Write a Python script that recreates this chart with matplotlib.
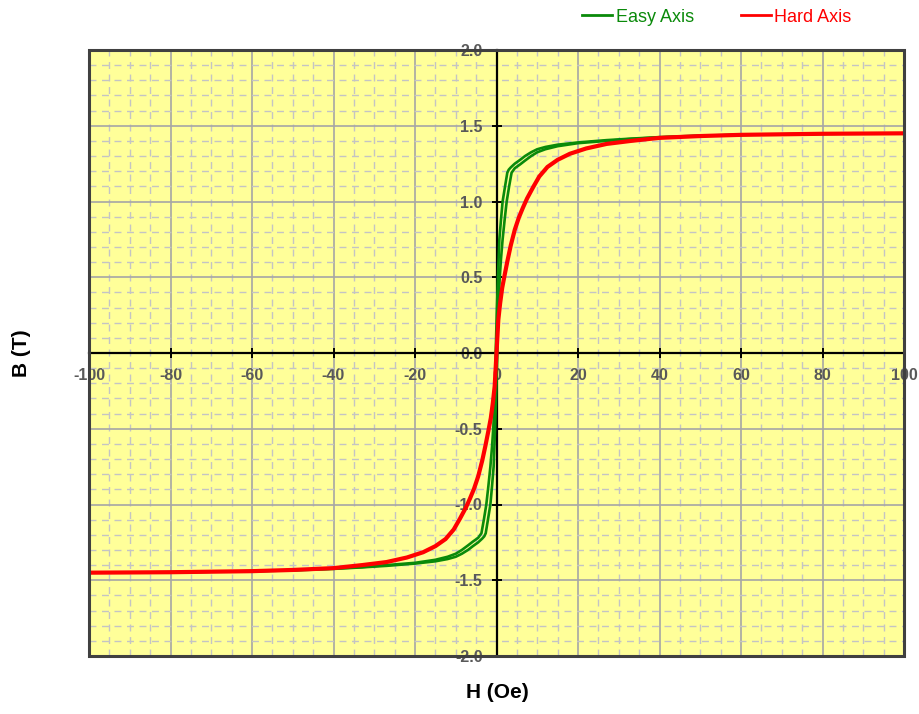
import matplotlib.pyplot as plt
from matplotlib.patches import Rectangle
from matplotlib.lines import Line2D
from matplotlib.ticker import MultipleLocator, FormatStrFormatter

plt.rcParams['axes.unicode_minus'] = False

# Easy axis loop: descending branch (from +H to -H)
easy_down_h = [100, 80, 60, 50, 40, 33, 27, 20, 15, 12, 10, 8.5, 7, 5.8, 4.5, 3.5, 3.0, 2.65, 2.1, 1.5, 1.1, 0.7, 0.35, 0.05, -0.2,
               -0.35, -0.8, -1.1, -1.5, -2.0, -2.5, -3.1, -3.7, -4.5, -5.8, -7, -8.5, -10, -12, -15, -20, -27, -33, -40, -50, -60, -80, -100]
easy_down_b = [1.45, 1.447, 1.44, 1.435, 1.425, 1.415, 1.405, 1.39, 1.375, 1.36, 1.345, 1.325, 1.30, 1.275, 1.25, 1.225, 1.21, 1.19, 1.1, 1.0, 0.88, 0.75, 0.5, 0.25, 0.0,
               -0.25, -0.5, -0.62, -0.75, -0.88, -1.0, -1.1, -1.19, -1.22, -1.245, -1.27, -1.30, -1.325, -1.345, -1.365, -1.385, -1.40, -1.413, -1.423, -1.433, -1.44, -1.447, -1.45]
# Easy axis loop: ascending branch (from -H to +H)
easy_up_h = [-100, -80, -60, -50, -40, -33, -27, -20, -15, -12, -10, -8.5, -7, -5.8, -4.5, -3.5, -3.0, -2.65, -2.1, -1.5, -1.1, -0.7, -0.35, -0.05, 0.2,
             0.35, 0.8, 1.1, 1.5, 2.0, 2.5, 3.1, 3.7, 4.5, 5.8, 7, 8.5, 10, 12, 15, 20, 27, 33, 40, 50, 60, 80, 100]
easy_up_b = [-1.45, -1.447, -1.44, -1.435, -1.425, -1.415, -1.405, -1.39, -1.375, -1.36, -1.345, -1.325, -1.30, -1.275, -1.25, -1.225, -1.21, -1.19, -1.1, -1.0, -0.88, -0.75, -0.5, -0.25, 0.0,
             0.25, 0.5, 0.62, 0.75, 0.88, 1.0, 1.1, 1.19, 1.22, 1.245, 1.27, 1.30, 1.325, 1.345, 1.365, 1.385, 1.40, 1.413, 1.423, 1.433, 1.44, 1.447, 1.45]

# Hard axis curve
hard_h = [-100, -80, -60, -50, -40, -33, -27, -22, -18, -15, -12.5, -10.5, -9, -7.5, -6.5, -5.5, -4.5, -3.5, -2.7, -2.0, -1.4, -0.9, -0.45,
          0,
          0.45, 0.9, 1.4, 2.0, 2.7, 3.5, 4.5, 5.5, 6.5, 7.5, 9, 10.5, 12.5, 15, 18, 22, 27, 33, 40, 50, 60, 80, 100]
hard_b = [-1.45, -1.447, -1.44, -1.432, -1.42, -1.40, -1.38, -1.35, -1.315, -1.275, -1.228, -1.165, -1.095, -1.02, -0.96, -0.895, -0.815, -0.71, -0.61, -0.515, -0.43, -0.33, -0.22,
          0.0,
          0.22, 0.33, 0.43, 0.515, 0.61, 0.71, 0.815, 0.895, 0.96, 1.02, 1.095, 1.165, 1.228, 1.275, 1.315, 1.35, 1.38, 1.40, 1.42, 1.432, 1.44, 1.447, 1.45]

green = '#0a8a0a'
red = '#ff0000'

fig = plt.figure(figsize=(9.2, 7.14), dpi=100)
ax = fig.add_axes([89 / 920, 1 - 656 / 714, 815 / 920, 606 / 714])
ax.set_facecolor('#ffff99')

ax.plot(easy_down_h, easy_down_b, color=green, lw=1.9, zorder=4, solid_joinstyle='round')
ax.plot(easy_up_h, easy_up_b, color=green, lw=1.9, zorder=4, solid_joinstyle='round')
ax.plot(hard_h, hard_b, color=red, lw=3.0, zorder=5, solid_joinstyle='round')

ax.set_xlim(-100, 100)
ax.set_ylim(-2, 2)
ax.xaxis.set_major_locator(MultipleLocator(20))
ax.xaxis.set_minor_locator(MultipleLocator(5))
ax.yaxis.set_major_locator(MultipleLocator(0.5))
ax.yaxis.set_minor_locator(MultipleLocator(0.1))
ax.yaxis.set_major_formatter(FormatStrFormatter('%.1f'))

ax.grid(which='major', color='#a6a6a6', lw=1.2, zorder=1)
ax.grid(which='minor', color='#c4c4c4', lw=1.0, linestyle=(0, (5, 4)), zorder=1)
ax.set_axisbelow(True)

# axes through the origin
ax.spines['left'].set_position('zero')
ax.spines['bottom'].set_position('zero')
ax.spines['top'].set_visible(False)
ax.spines['right'].set_visible(False)
for s in ['left', 'bottom']:
    ax.spines[s].set_color('black')
    ax.spines[s].set_linewidth(1.6)
    ax.spines[s].set_zorder(3)

ax.tick_params(which='major', direction='inout', length=7, width=1.4, color='black',
               labelsize=11.5, labelcolor='#595959')
ax.tick_params(axis='y', which='major', pad=6.5)
ax.tick_params(axis='x', which='major', pad=7.5)
ax.tick_params(which='minor', length=0)
for lab in ax.get_xticklabels() + ax.get_yticklabels():
    lab.set_fontweight('bold')
    lab.set_fontfamily('Liberation Sans')

# outer frame
ax.add_patch(Rectangle((0, 0), 1, 1, transform=ax.transAxes, fill=False,
                       edgecolor='#404040', lw=2.2, clip_on=False, zorder=6))

fig.text(497 / 920, 1 - 692 / 714, 'H (Oe)', ha='center', va='center',
         fontsize=15, fontweight='bold', family='Liberation Sans')
fig.text(22 / 920, 1 - 353 / 714, 'B (T)', ha='center', va='center', rotation=90,
         fontsize=15, fontweight='bold', family='Liberation Sans')

handles = [Line2D([], [], color=green, lw=2), Line2D([], [], color=red, lw=2)]
fig.legend(handles, ['Easy Axis', 'Hard Axis'], loc='center',
           bbox_to_anchor=(717 / 920, 1 - 17 / 714), ncol=2, frameon=False,
           labelcolor=[green, red], prop={'family': 'Liberation Sans', 'size': 13},
           handlelength=1.65, handletextpad=0.2, columnspacing=2.6)

fig.savefig('out.png', dpi=100)
